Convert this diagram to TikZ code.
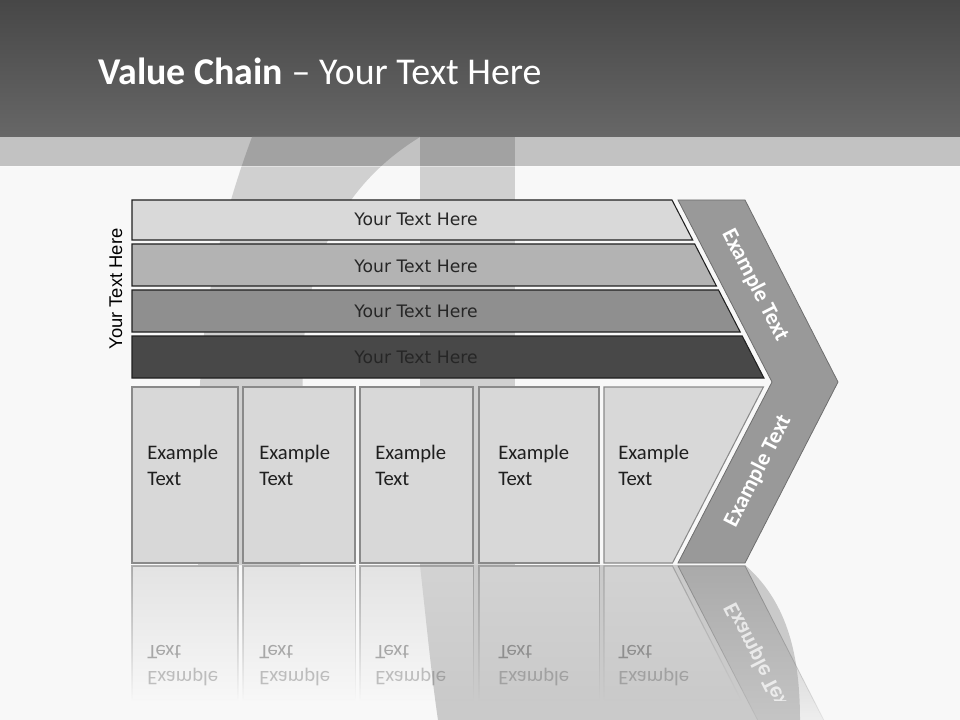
\documentclass[tikz,border=0pt]{standalone}
\usepackage{fontspec}
\setmainfont{Carlito}
\newfontfamily\barfont{DejaVu Sans}
\newfontfamily\arialfont{Liberation Sans}
\usetikzlibrary{fadings}
\tikzfading[name=reflfade, top color=transparent!35, bottom color=transparent!100]
\definecolor{bgc}{HTML}{F8F8F8}
\definecolor{hdrtop}{HTML}{474747}
\definecolor{hdrbot}{HTML}{676767}
\definecolor{bandc}{HTML}{C2C2C2}
\definecolor{shapec}{HTML}{D0D0D0}
\definecolor{shapedark}{HTML}{A2A2A2}
\definecolor{blobc}{HTML}{CACACA}
\definecolor{barA}{HTML}{D9D9D9}
\definecolor{barB}{HTML}{B3B3B3}
\definecolor{barC}{HTML}{8F8F8F}
\definecolor{barD}{HTML}{484848}
\definecolor{barline}{HTML}{202020}
\definecolor{bartextc}{HTML}{262626}
\definecolor{boxc}{HTML}{D8D8D8}
\definecolor{boxline}{HTML}{8A8A8A}
\definecolor{chevc}{HTML}{999999}
\definecolor{chevline}{HTML}{6E6E6E}
\begin{document}
\begin{tikzpicture}[x=0.75pt,y=-0.75pt,
  barbox/.style={draw=barline, line width=0.8},
  boxbox/.style={fill=boxc, draw=boxline, line width=0.8},
  bartext/.style={font=\barfont\fontsize{12.9}{15}\selectfont, text=bartextc, inner sep=0},
  boxtext/.style={font=\fontsize{15.5}{19.5}\selectfont, align=left, anchor=base west, inner sep=0, text=black!88},
  refltext/.style={boxtext, transform shape, text=black, text opacity=0.3},
  chevtext/.style={font=\bfseries\fontsize{16.8}{19}\selectfont, text=white, inner sep=0},
  chevshape/.style={fill=chevc, draw=chevline, line width=0.6},
  reflbox/.style={fill=boxc, draw=boxline, line width=0.8, path fading=reflfade}
]
\useasboundingbox (0,0) rectangle (960,720);
\fill[bgc] (0,0) rectangle (960,720);
% background decoration
\def\arcband{(252,137) .. controls (225,210) and (200,300) .. (199,420) -- (198,565) -- (300,565) -- (303,360) .. controls (306,250) and (350,180) .. (420,137) -- cycle}
\fill[shapec] \arcband;
\fill[shapec] (420,137) rectangle (515,565);
\fill[blobc] (420,565) .. controls (426,620) and (432,680) .. (438,720) -- (800,720) .. controls (800,650) and (785,600) .. (745,565) -- cycle;
% header
\shade[top color=hdrtop, bottom color=hdrbot] (0,0) rectangle (960,137);
\fill[bandc] (0,137) rectangle (960,166);
\begin{scope}
  \clip (0,137) rectangle (960,166);
  \fill[shapedark] \arcband;
  \fill[shapedark] (420,137) rectangle (515,166);
\end{scope}
\draw[white, opacity=0.4, line width=0.6] (0,166) -- (960,166);
\node[font=\fontsize{28.4}{34}\selectfont, text=white, anchor=base west, inner sep=0] (title) at (98,85) {\textbf{Value Chain} – Your Text Here};
% bars
\path[barbox, fill=barA] (132,200) -- (672,200) -- (692.7,240) -- (132,240) -- cycle;
\path[barbox, fill=barB] (132,244) -- (694.7,244) -- (716.4,286) -- (132,286) -- cycle;
\path[barbox, fill=barC] (132,290) -- (718.5,290) -- (740.2,332) -- (132,332) -- cycle;
\path[barbox, fill=barD] (132,336) -- (742.2,336) -- (763.9,378) -- (132,378) -- cycle;
\node[bartext] (t1) at (416,219) {Your Text Here};
\node[bartext] (t2) at (416,266) {Your Text Here};
\node[bartext] (t3) at (416,311) {Your Text Here};
\node[bartext, text=black!85] (t4) at (416,357) {Your Text Here};
\node[rotate=90, font=\arialfont\fontsize{13.8}{16}\selectfont, text=black, inner sep=0] (side) at (116,289) {Your Text Here};
% chevron
\path[chevshape] (678,200) -- (745,200) -- (838,382) -- (745,563) -- (678,563) -- (772,382) -- cycle;
\node[chevtext, rotate=-62.9] (c1) at (755,285) {Example Text};
\node[chevtext, rotate=62.9] (c2) at (758,471) {Example Text};
% boxes
\path[boxbox] (132,387) rectangle (238,563);
\path[boxbox] (243,387) rectangle (355,563);
\path[boxbox] (360,387) rectangle (473,563);
\path[boxbox] (479,387) rectangle (599,563);
\path[boxbox] (604,387) -- (763.4,387) -- (672.5,563) -- (604,563) -- cycle;
\node[boxtext] (b1) at (147,485) {Example\\Text};
\node[boxtext] (b2) at (259,485) {Example\\Text};
\node[boxtext] (b3) at (375,485) {Example\\Text};
\node[boxtext] (b4) at (498,485) {Example\\Text};
\node[boxtext] (b5) at (618,485) {Example\\Text};
% reflections
\path[reflbox] (132,566) rectangle (238,700);
\path[reflbox] (243,566) rectangle (355,700);
\path[reflbox] (360,566) rectangle (473,700);
\path[reflbox] (479,566) rectangle (599,700);
\path[reflbox] (604,566) -- (672.5,566) -- (741,700) -- (604,700) -- cycle;
\path[fill=chevc, draw=chevline, line width=0.6, path fading=reflfade] (678,566) -- (745,566) -- (838,748) -- (772,748) -- cycle;
\begin{scope}
  \clip (0,565) rectangle (960,700);
  \begin{scope}[shift={(0,1130)}, yscale=-1]
    \node[refltext] (r1) at (147,485) {\textcolor{black!75}{Example}\\Text};
    \node[refltext] (r2) at (259,485) {\textcolor{black!75}{Example}\\Text};
    \node[refltext] (r3) at (375,485) {\textcolor{black!75}{Example}\\Text};
    \node[refltext] (r4) at (498,485) {\textcolor{black!75}{Example}\\Text};
    \node[refltext] (r5) at (618,485) {\textcolor{black!75}{Example}\\Text};
    \node[chevtext, rotate=62.9, transform shape, opacity=0.7] (rc2) at (758,471) {Example Text};
  \end{scope}
\end{scope}
\end{tikzpicture}
\end{document}
